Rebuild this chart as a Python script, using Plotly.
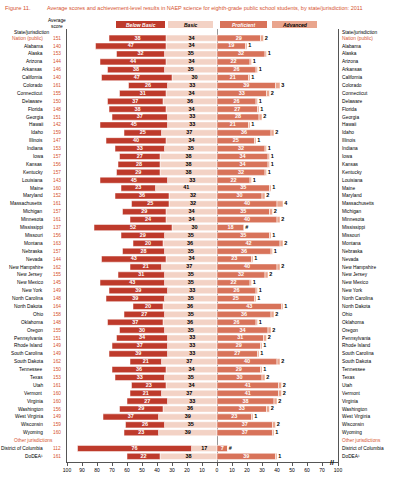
import plotly.graph_objects as go

states = ["Nation (public)", "Alabama", "Alaska", "Arizona", "Arkansas", "California", "Colorado",
          "Connecticut", "Delaware", "Florida", "Georgia", "Hawaii", "Idaho", "Illinois", "Indiana",
          "Iowa", "Kansas", "Kentucky", "Louisiana", "Maine", "Maryland", "Massachusetts", "Michigan",
          "Minnesota", "Mississippi", "Missouri", "Montana", "Nebraska", "Nevada", "New Hampshire",
          "New Jersey", "New Mexico", "New York", "North Carolina", "North Dakota", "Ohio", "Oklahoma",
          "Oregon", "Pennsylvania", "Rhode Island", "South Carolina", "South Dakota", "Tennessee",
          "Texas", "Utah", "Vermont", "Virginia", "Washington", "West Virginia", "Wisconsin", "Wyoming",
          "Other jurisdictions", "District of Columbia", "DoDEA¹"]
avg_score = [151, 140, 153, 144, 146, 140, 161, 155, 150, 148, 151, 142, 159, 147, 153, 157, 156, 157,
             143, 160, 152, 161, 157, 161, 137, 156, 163, 157, 144, 162, 155, 145, 149, 148, 164, 158,
             148, 155, 151, 149, 149, 162, 150, 153, 161, 160, 160, 156, 149, 159, 160, None, 112, 161]
below_basic = [38, 47, 32, 44, 38, 47, 26, 31, 37, 38, 37, 45, 25, 40, 33, 27, 28, 29, 45, 23, 36, 25,
               29, 24, 52, 29, 20, 28, 43, 21, 31, 43, 39, 39, 20, 27, 37, 30, 34, 37, 39, 21, 36, 33,
               23, 21, 27, 29, 37, 26, 23, None, 76, 22]
basic = [34, 34, 35, 34, 35, 30, 33, 34, 36, 34, 33, 33, 37, 34, 35, 38, 38, 38, 33, 41, 32, 32, 34, 34,
         30, 35, 36, 35, 34, 37, 35, 35, 33, 35, 36, 35, 36, 35, 33, 33, 33, 37, 34, 35, 34, 37, 33, 36,
         39, 35, 39, None, 17, 38]
proficient = [29, 19, 32, 22, 26, 21, 39, 33, 26, 27, 28, 21, 36, 25, 32, 34, 34, 32, 22, 35, 30, 40,
              35, 40, 18, 35, 42, 36, 23, 40, 32, 22, 26, 25, 43, 36, 26, 34, 31, 29, 27, 40, 29, 30,
              41, 41, 38, 33, 23, 37, 37, None, 7, 39]
advanced = [2, 1, 1, 1, 1, 1, 3, 2, 1, 1, 2, 1, 2, 1, 1, 1, 1, 1, 1, 1, 2, 4, 2, 2, 0, 1, 2, 1, 1, 2, 2,
            1, 1, 1, 1, 2, 1, 2, 2, 1, 1, 2, 1, 2, 2, 2, 2, 2, 1, 2, 1, None, 0, 1]
tick_vals_left = [-100, -90, -80, -70, -60, -50, -40, -30, -20, -10, 0]
tick_vals_right = [10, 20, 30, 40, 50, 60, 70]
tick_break_label = "100"

W, H = 399, 485
L, R, T, B = 67, 338, 29, 468
PXU = 1.5
XMAX = (R - L) / PXU - 100
ROW0, ROWH = 38.3, 8.0

def px(x):
    return (x - L) / (R - L)

def py(y):
    return 1 - (y - T) / (B - T)

rows = list(range(len(states)))
ytop = -(ROW0 - T) / ROWH
ybot = (B - ROW0) / ROWH

C_BB = "#BE3A2B"
C_B = "#F3D2C5"
C_P = "#D8735A"
C_A = "#E9A58D"
C_RED = "#D6532F"
FONT = "Liberation Sans Narrow, Arial Narrow, Liberation Sans, sans-serif"

def neg(v):
    return [None if a is None else -a for a in v]

fig = go.Figure()
line = dict(color="white", width=0.5)
fig.add_trace(go.Bar(y=rows, x=neg(basic), orientation="h", marker=dict(color=C_B, line=line)))
fig.add_trace(go.Bar(y=rows, x=neg(below_basic), orientation="h", marker=dict(color=C_BB, line=line)))
fig.add_trace(go.Bar(y=rows, x=proficient, orientation="h", marker=dict(color=C_P, line=line)))
fig.add_trace(go.Bar(y=rows, x=advanced, orientation="h", marker=dict(color=C_A, line=line)))

ok = [i for i in rows if basic[i] is not None]
lbl = dict(size=5.5, family=FONT, weight="bold")
fig.add_trace(go.Scatter(
    x=[-(basic[i] + below_basic[i] / 2) for i in ok], y=ok, mode="text",
    text=[str(below_basic[i]) for i in ok], textfont=dict(color="white", **lbl)))
fig.add_trace(go.Scatter(
    x=[-basic[i] / 2 for i in ok], y=ok, mode="text",
    text=[str(basic[i]) for i in ok], textfont=dict(color="black", **lbl)))
fig.add_trace(go.Scatter(
    x=[proficient[i] / 2 for i in ok], y=ok, mode="text",
    text=[str(proficient[i]) for i in ok], textfont=dict(color="white", **lbl)))
fig.add_trace(go.Scatter(
    x=[proficient[i] + advanced[i] + 0.8 for i in ok], y=ok, mode="text",
    text=["#" if advanced[i] == 0 else str(advanced[i]) for i in ok], textposition="middle right",
    textfont=dict(color="black", **lbl)))

ann = []
def add(x, y, text, xanchor="center", yref="paper", **font):
    ann.append(dict(x=x, y=y, xref="paper", yref=yref, text=text, xanchor=xanchor, yanchor="middle",
                    showarrow=False, font=font))

for i in rows:
    red = i == 0 or states[i] == "Other jurisdictions"
    col = C_RED if red else "black"
    xr = 55 if states[i] == "Other jurisdictions" else 45
    add(px(xr), i, states[i], "right", "y", size=4.8, color=col, family=FONT)
    add(px(340), i, states[i], "left", "y", size=4.8, color=col, family=FONT)
    if avg_score[i] is not None:
        add(px(57), i, str(avg_score[i]), "center", "y", size=4.8, color=C_RED, family=FONT)

# headers
add(px(32), py(32.5), "State/jurisdiction", "center", size=4.8, color="black", family=FONT)
add(px(340), py(32.5), "State/jurisdiction", "left", size=4.8, color="black", family=FONT)
add(px(57), py(23.5), "Average<br>score", "center", size=4.8, color="black", family=FONT)
# title
add(px(3), py(7.5), "Figure 11.", "left", size=5.8, color=C_RED, family=FONT)
add(px(45), py(7.5),
    "Average scores and achievement-level results in NAEP science for eighth-grade public school students, by state/jurisdiction: 2011",
    "left", size=5.5, color=C_RED, family=FONT)

# legend boxes
shapes = []
leg = [("Below Basic", 116, 165, C_BB, "white"), ("Basic", 168, 213, C_B, "black"),
       ("Proficient", 220, 267, C_P, "white"), ("Advanced", 272, 317, C_A, "black")]
for name, x0, x1, c, tc in leg:
    shapes.append(dict(type="rect", xref="paper", yref="paper", x0=px(x0), x1=px(x1),
                       y0=py(28), y1=py(21), fillcolor=c, line=dict(width=0), layer="below"))
    add(px((x0 + x1) / 2), py(24.5), "<i>" + name + "</i>", "center",
        size=5, color=tc, family=FONT, weight="bold")

# axis break mark
ann.append(dict(x=76.5, y=py(B), xref="x", yref="paper", text="<b>//</b>", showarrow=False,
                xanchor="center", yanchor="middle", font=dict(size=7, color="black", family=FONT)))

tickvals = tick_vals_left + tick_vals_right + [XMAX]
ticktext = [str(-v) for v in tick_vals_left] + [str(v) for v in tick_vals_right] + [tick_break_label]

fig.update_layout(
    width=W, height=H, margin=dict(l=L, r=W - R, t=T, b=H - B),
    barmode="relative", bargap=0.22, showlegend=False,
    plot_bgcolor="white", paper_bgcolor="white",
    annotations=ann, shapes=shapes,
    xaxis=dict(range=[-100, XMAX], tickvals=tickvals, ticktext=ticktext, showgrid=False,
               zeroline=True, zerolinecolor="#999999", zerolinewidth=1,
               showline=True, linecolor="#555555", linewidth=1, ticks="outside", ticklen=3,
               tickcolor="#555555", tickfont=dict(size=5, family=FONT, color="black")),
    yaxis=dict(range=[ybot, ytop], showticklabels=False, showgrid=False, zeroline=False,
               showline=True, mirror=True, linecolor="#555555", linewidth=1, ticks=""),
)
fig.write_html("out.html")
